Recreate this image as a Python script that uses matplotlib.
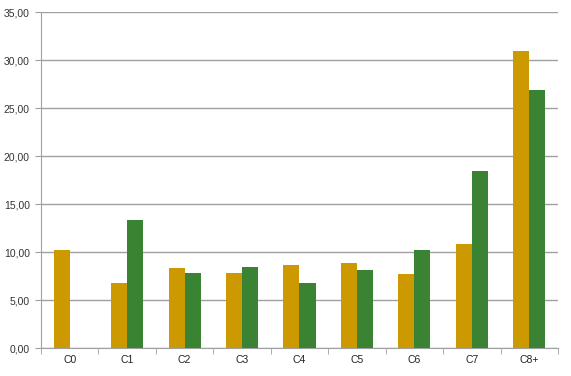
import numpy as np
import matplotlib.pyplot as plt
from matplotlib.ticker import FuncFormatter

# Dữ liệu
categories = ["C0", "C1", "C2", "C3", "C4", "C5", "C6", "C7", "C8+"]
series_orange = [10.18, 6.77, 8.30, 7.84, 8.65, 8.82, 7.67, 10.83, 30.94]
series_green = [np.nan, 13.33, 7.84, 8.44, 6.77, 8.16, 10.17, 18.47, 26.88]

plt.rcParams['font.family'] = ['Liberation Sans', 'DejaVu Sans']

fig = plt.figure(figsize=(5.71, 3.76), dpi=100)
ax = fig.add_axes([41 / 571, 28 / 376, 517 / 571, 336 / 376])

x = np.arange(len(categories))
w = 0.28
ax.bar(x - w / 2, series_orange, width=w, color="#CC9900", zorder=3)
ax.bar(x + w / 2, series_green, width=w, color="#3A8332", zorder=3)

ax.set_xlim(-0.5, len(categories) - 0.5)
ax.set_ylim(0, 35)
ax.set_yticks(np.arange(0, 36, 5))
ax.yaxis.set_major_formatter(FuncFormatter(lambda v, p: f"{v:.2f}".replace(".", ",")))
ax.grid(axis="y", color="#A0A0A0", linewidth=1, zorder=0)

# Nhãn ở giữa, vạch chia ở ranh giới nhóm
ax.set_xticks(x)
ax.set_xticklabels(categories)
ax.set_xticks(np.arange(-0.5, len(categories)), minor=True)
ax.tick_params(axis="x", which="major", length=0, pad=5, labelsize=7.5, colors="#222222")
ax.tick_params(axis="x", which="minor", length=4, color="#A0A0A0")
ax.tick_params(axis="y", length=4, color="#A0A0A0", labelsize=7.5, labelcolor="#333333", pad=4)

for s in ["top", "right"]:
    ax.spines[s].set_visible(False)
for s in ["left", "bottom"]:
    ax.spines[s].set_color("#A0A0A0")

fig.savefig("out.png", dpi=100)
